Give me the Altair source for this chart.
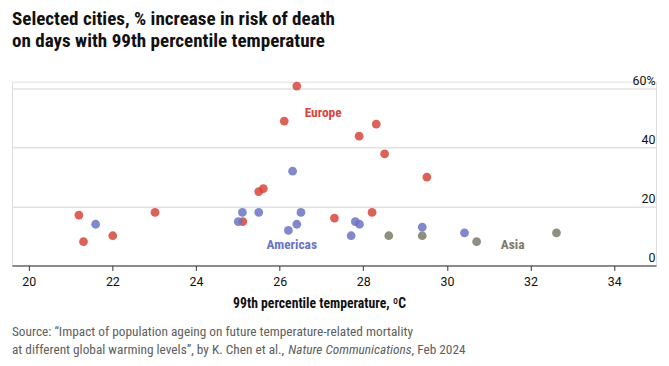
import altair as alt
import pandas as pd

# ---- data ----
europe_temp = [26.41, 26.11, 28.31, 27.90, 28.51, 29.52, 25.50, 25.61, 23.02, 21.20, 21.31, 22.01, 25.12, 27.31, 28.21]
europe_pct = [60.9, 49.0, 48.0, 43.9, 37.9, 30.0, 25.1, 26.1, 18.0, 17.1, 8.1, 10.1, 14.9, 16.1, 18.0]

americas_temp = [21.60, 25.01, 25.11, 25.50, 26.31, 26.21, 26.41, 26.51, 27.71, 27.81, 27.91, 29.41, 30.42]
americas_pct = [14.0, 14.9, 18.0, 18.0, 32.0, 11.9, 14.0, 18.0, 10.1, 14.9, 14.0, 13.0, 11.1]

asia_temp = [28.61, 29.41, 30.71, 32.62]
asia_pct = [10.1, 10.1, 8.1, 11.1]

regions = ["Europe", "Americas", "Asia"]
point_colors = ["#d6463c", "#6b74c3", "#7c7b69"]
label_colors = ["#c9302a", "#3c45a2", "#66665a"]
label_temp = [27.04, 26.29, 31.57]
label_pct = [51.9, 7.0, 6.9]

x_ticks = [20, 22, 24, 26, 28, 30, 32, 34]
y_ticks = [0, 20, 40, 60]

title_lines = ["Selected cities, % increase in risk of death",
               "on days with 99th percentile temperature"]
source_line1 = "Source: \u201cImpact of population ageing on future temperature-related mortality"
source_line2a = "at different global warming levels\u201d, by K. Chen et al.,"
source_line2b = "Nature Communications"
source_line2c = ", Feb 2024"

NARROW = "Liberation Sans Narrow, Roboto Condensed, DejaVu Sans Condensed, Roboto, sans-serif"
NUM = "Roboto, Liberation Sans, sans-serif"

rows = []
for r, xs, ys in [("Europe", europe_temp, europe_pct),
                  ("Americas", americas_temp, americas_pct),
                  ("Asia", asia_temp, asia_pct)]:
    for a, b in zip(xs, ys):
        rows.append({"region": r, "temp": a, "pct": b})
df = pd.DataFrame(rows)
labels_df = pd.DataFrame({"region": regions, "temp": label_temp, "pct": label_pct})

W, H = 648, 185
xscale = alt.Scale(domain=[19.6, 35.0], nice=False, zero=False)
yscale = alt.Scale(domain=[0, 62.4], nice=False)

points = alt.Chart(df).mark_circle(size=78, opacity=0.85).encode(
    x=alt.X("temp:Q", scale=xscale,
            axis=alt.Axis(values=x_ticks, grid=False, domainColor="#333333", domainWidth=1,
                          tickColor="#333333", tickSize=5, labelFont=NUM, labelFontSize=12.5,
                          labelColor="#111111", labelPadding=5,
                          title="99th percentile temperature, \u00baC", titleFont=NARROW,
                          titleFontSize=13.8, titleFontWeight="bold", titleColor="#111111",
                          titleX=309, titleY=42, titleBaseline="alphabetic", titleAlign="center")),
    y=alt.Y("pct:Q", scale=yscale,
            axis=alt.Axis(orient="right", values=y_ticks, grid=True, gridColor="#e2e2e2",
                          gridWidth=1.5, domain=False, ticks=False, tickSize=0,
                          labelAlign="right", labelBaseline="alphabetic", labelPadding=-1,
                          labelOffset=-4, labelFont=NUM, labelFontSize=12.5, labelColor="#111111",
                          labelExpr="datum.value == 60 ? '60%' : datum.label", title=None)),
    color=alt.Color("region:N", scale=alt.Scale(domain=regions, range=point_colors), legend=None),
)

labels = alt.Chart(labels_df).mark_text(font=NARROW, fontSize=13.5, fontWeight="bold",
                                        baseline="middle", align="center").encode(
    x=alt.X("temp:Q", scale=xscale),
    y=alt.Y("pct:Q", scale=yscale),
    text="region:N",
    color=alt.Color("region:N", scale=alt.Scale(domain=regions, range=label_colors), legend=None),
)

def txt(s, x, y, **kw):
    d = pd.DataFrame({"t": [s]})
    return alt.Chart(d).mark_text(align="left", baseline="alphabetic", **kw).encode(
        text="t:N", x=alt.value(x), y=alt.value(y))

title1 = txt(title_lines[0], 0, -57, font=NARROW, fontSize=19.2, fontWeight="bold", color="#111111")
title2 = txt(title_lines[1], 0, -35, font=NARROW, fontSize=19.2, fontWeight="bold", color="#111111")
src1 = txt(source_line1, 0, 256, font=NARROW, fontSize=13.4, color="#5e5e5e")
src2a = txt(source_line2a, 0, 274, font=NARROW, fontSize=13.4, color="#5e5e5e")
src2b = txt(source_line2b, 278, 274, font=NARROW, fontSize=13.4, fontStyle="italic", color="#5e5e5e")
src2c = txt(source_line2c, 402, 274, font=NARROW, fontSize=13.4, color="#5e5e5e")

chart = alt.layer(points, labels, title1, title2, src1, src2a, src2b, src2c).properties(
    width=W, height=H,
    autosize=alt.AutoSizeParams(type="none"),
    padding={"left": 4, "top": 73, "right": 5, "bottom": 92},
).configure_view(stroke=None).configure(background="white")

chart.save("out.html", embed_options={"renderer": "svg", "actions": False})
